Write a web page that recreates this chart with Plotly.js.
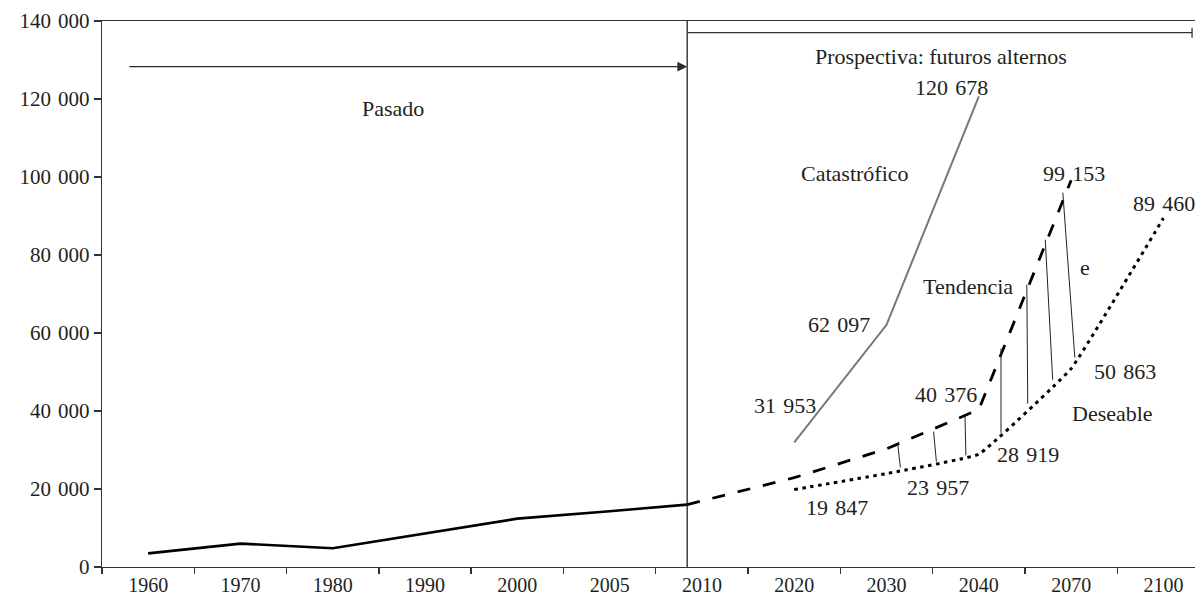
<!DOCTYPE html>
<html>
<head>
<meta charset="utf-8">
<script src="https://cdn.plot.ly/plotly-3.0.1.min.js"></script>
<style>html,body{margin:0;padding:0;background:#fff;}#chart{width:1195px;height:595px;}</style>
</head>
<body>
<div id="chart"></div>
<script>
// Category labels of the x axis (one slot each)
const categories = ['1960','1970','1980','1990','2000','2005','2010','2020','2030','2040','2070','2100'];

// Pasado (history) - category positions and values
const pasadoX = [0, 1, 2, 3, 4, 5, 5.84];
const pasado  = [3500, 6000, 4800, 8600, 12400, 14300, 16000];

// Prospectiva scenarios
const tendenciaX = [5.84, 7, 8, 9, 10];
const tendencia  = [16000, 22900, 30300, 40376, 99153];

const deseableX = [7, 8, 9, 10, 11];
const deseable  = [19847, 23957, 28919, 50863, 89460];

const catastroficoX = [7, 8, 9];
const catastrofico  = [31953, 62097, 120678];

// y ticks
const yTicks = [0, 20000, 40000, 60000, 80000, 100000, 120000, 140000];

// Gap connectors between Tendencia and Deseable: x top, y top, x bottom, y bottom
const gapXTop = [8.12, 8.51, 8.85, 9.24, 9.52, 9.72, 9.91];
const gapYTop = [31900, 34700, 38800, 56000, 72400, 83900, 96000];
const gapXBot = [8.15, 8.54, 8.86, 9.24, 9.53, 9.80, 10.04];
const gapYBot = [25500, 27000, 28600, 34400, 41900, 48000, 53700];

// Divider and period arrows
const dividerX = 5.84;
const pasadoArrowStartX = -0.22;
const arrowLevel = 128300;
const prospectivaLevel = 137000;
const prospectivaEndX = 11.31;

function fmt(v) {
  const s = String(Math.round(v));
  return s.replace(/\B(?=(\d{3})+(?!\d))/g, '\u2004');
}

const FONT = 'Liberation Serif, Times New Roman, serif';
const TXT = '#231f20';

const traces = [
  {x: pasadoX, y: pasado, mode: 'lines', line: {color: '#000', width: 2.6}},
  {x: catastroficoX, y: catastrofico, mode: 'lines', line: {color: '#787878', width: 2}},
  {x: tendenciaX, y: tendencia, mode: 'lines', line: {color: '#000', width: 2.8, dash: '13px,13px'}},
  {x: deseableX, y: deseable, mode: 'lines', line: {color: '#000', width: 3, dash: '3.5px,4.5px', shape: 'spline', smoothing: 0.25}}
];

const annotations = [];
function addText(x, y, text, xshift, yshift, xanchor) {
  annotations.push({x: x, y: y, xref: 'x', yref: 'y', text: text, showarrow: false,
    xanchor: xanchor || 'center', yanchor: 'middle', xshift: xshift, yshift: yshift,
    font: {family: FONT, size: 22, color: TXT}});
}

// value labels (offsets in px)
const catOff = [[-9, 37], [-48, 0], [-27, 9]];
catastroficoX.forEach((x, i) => addText(x, catastrofico[i], fmt(catastrofico[i]), catOff[i][0], catOff[i][1]));
addText(tendenciaX[3], tendencia[3], fmt(tendencia[3]), -33, 15);
addText(tendenciaX[4], tendencia[4], fmt(tendencia[4]), 3, 7);
const desOff = [[43, -18], [51, -14], [49, 0], [54, -3]];
desOff.forEach((o, i) => addText(deseableX[i], deseable[i], fmt(deseable[i]), o[0], o[1]));
// last label sits against the right edge
addText(deseableX[4], deseable[4], fmt(deseable[4]), 34, 15, 'right');

function px2x(px) { return (px - 102) / 92.3 - 0.5; }
function px2y(py) { return (567.3 - py) / 78 * 20000; }
addText(px2x(393), px2y(109), 'Pasado', 0, 0);
addText(px2x(941), px2y(57), 'Prospectiva: futuros alternos', 0, 0);
addText(px2x(855), px2y(174), 'Catastrófico', 0, 0);
addText(px2x(968), px2y(287), 'Tendencia', 0, 0);
addText(px2x(1085), px2y(268), 'e', 0, 0);
addText(px2x(1113), px2y(414), 'Deseable', 0, 0);

// Pasado arrow
annotations.push({x: dividerX, y: arrowLevel, ax: pasadoArrowStartX, ay: arrowLevel, xref: 'x', yref: 'y',
  axref: 'x', ayref: 'y', text: '', showarrow: true, arrowhead: 2, arrowsize: 1.4, arrowwidth: 1.4,
  arrowcolor: '#2b2b2b', standoff: 0, startstandoff: 0});

const shapes = [
  {type: 'line', xref: 'x', yref: 'y', x0: dividerX, x1: dividerX, y0: 0, y1: 140000, line: {color: '#111', width: 1.2}},
  {type: 'line', xref: 'x', yref: 'y', x0: dividerX, x1: prospectivaEndX, y0: prospectivaLevel, y1: prospectivaLevel, line: {color: '#333', width: 1.3}},
  {type: 'line', xref: 'x', yref: 'y', x0: prospectivaEndX, x1: prospectivaEndX, y0: px2y(28), y1: px2y(38), line: {color: '#333', width: 1.3}}
];
gapXTop.forEach((x, i) => shapes.push({type: 'line', xref: 'x', yref: 'y', x0: x, y0: gapYTop[i], x1: gapXBot[i], y1: gapYBot[i], line: {color: '#222', width: 1}}));

const layout = {
  width: 1195, height: 595,
  margin: {l: 102, r: 0, t: 21, b: 28, pad: 0},
  paper_bgcolor: '#fff', plot_bgcolor: '#fff',
  showlegend: false,
  font: {family: FONT, size: 21, color: TXT},
  xaxis: {
    range: [-0.5, 11.342], showgrid: false, zeroline: false,
    showline: true, linecolor: '#333', linewidth: 1.4, mirror: true,
    tickmode: 'array', tickvals: categories.map((c, i) => i), ticktext: categories,
    ticks: '', tickfont: {family: FONT, size: 20, color: TXT},
    minor: {tickmode: 'linear', tick0: -0.5, dtick: 1, ticks: 'outside', ticklen: 6, tickwidth: 1.4, tickcolor: '#333', showgrid: false}
  },
  yaxis: {
    range: [0, 140000], showgrid: false, zeroline: false,
    showline: true, linecolor: '#333', linewidth: 1.4,
    tickmode: 'array', tickvals: yTicks, ticktext: yTicks.map(fmt),
    ticks: 'outside', ticklen: 7, tickwidth: 1.4, tickcolor: '#333',
    tickfont: {family: FONT, size: 21, color: TXT}
  },
  annotations: annotations,
  shapes: shapes
};

Plotly.newPlot('chart', traces, layout, {staticPlot: true, displayModeBar: false});
</script>
</body>
</html>
